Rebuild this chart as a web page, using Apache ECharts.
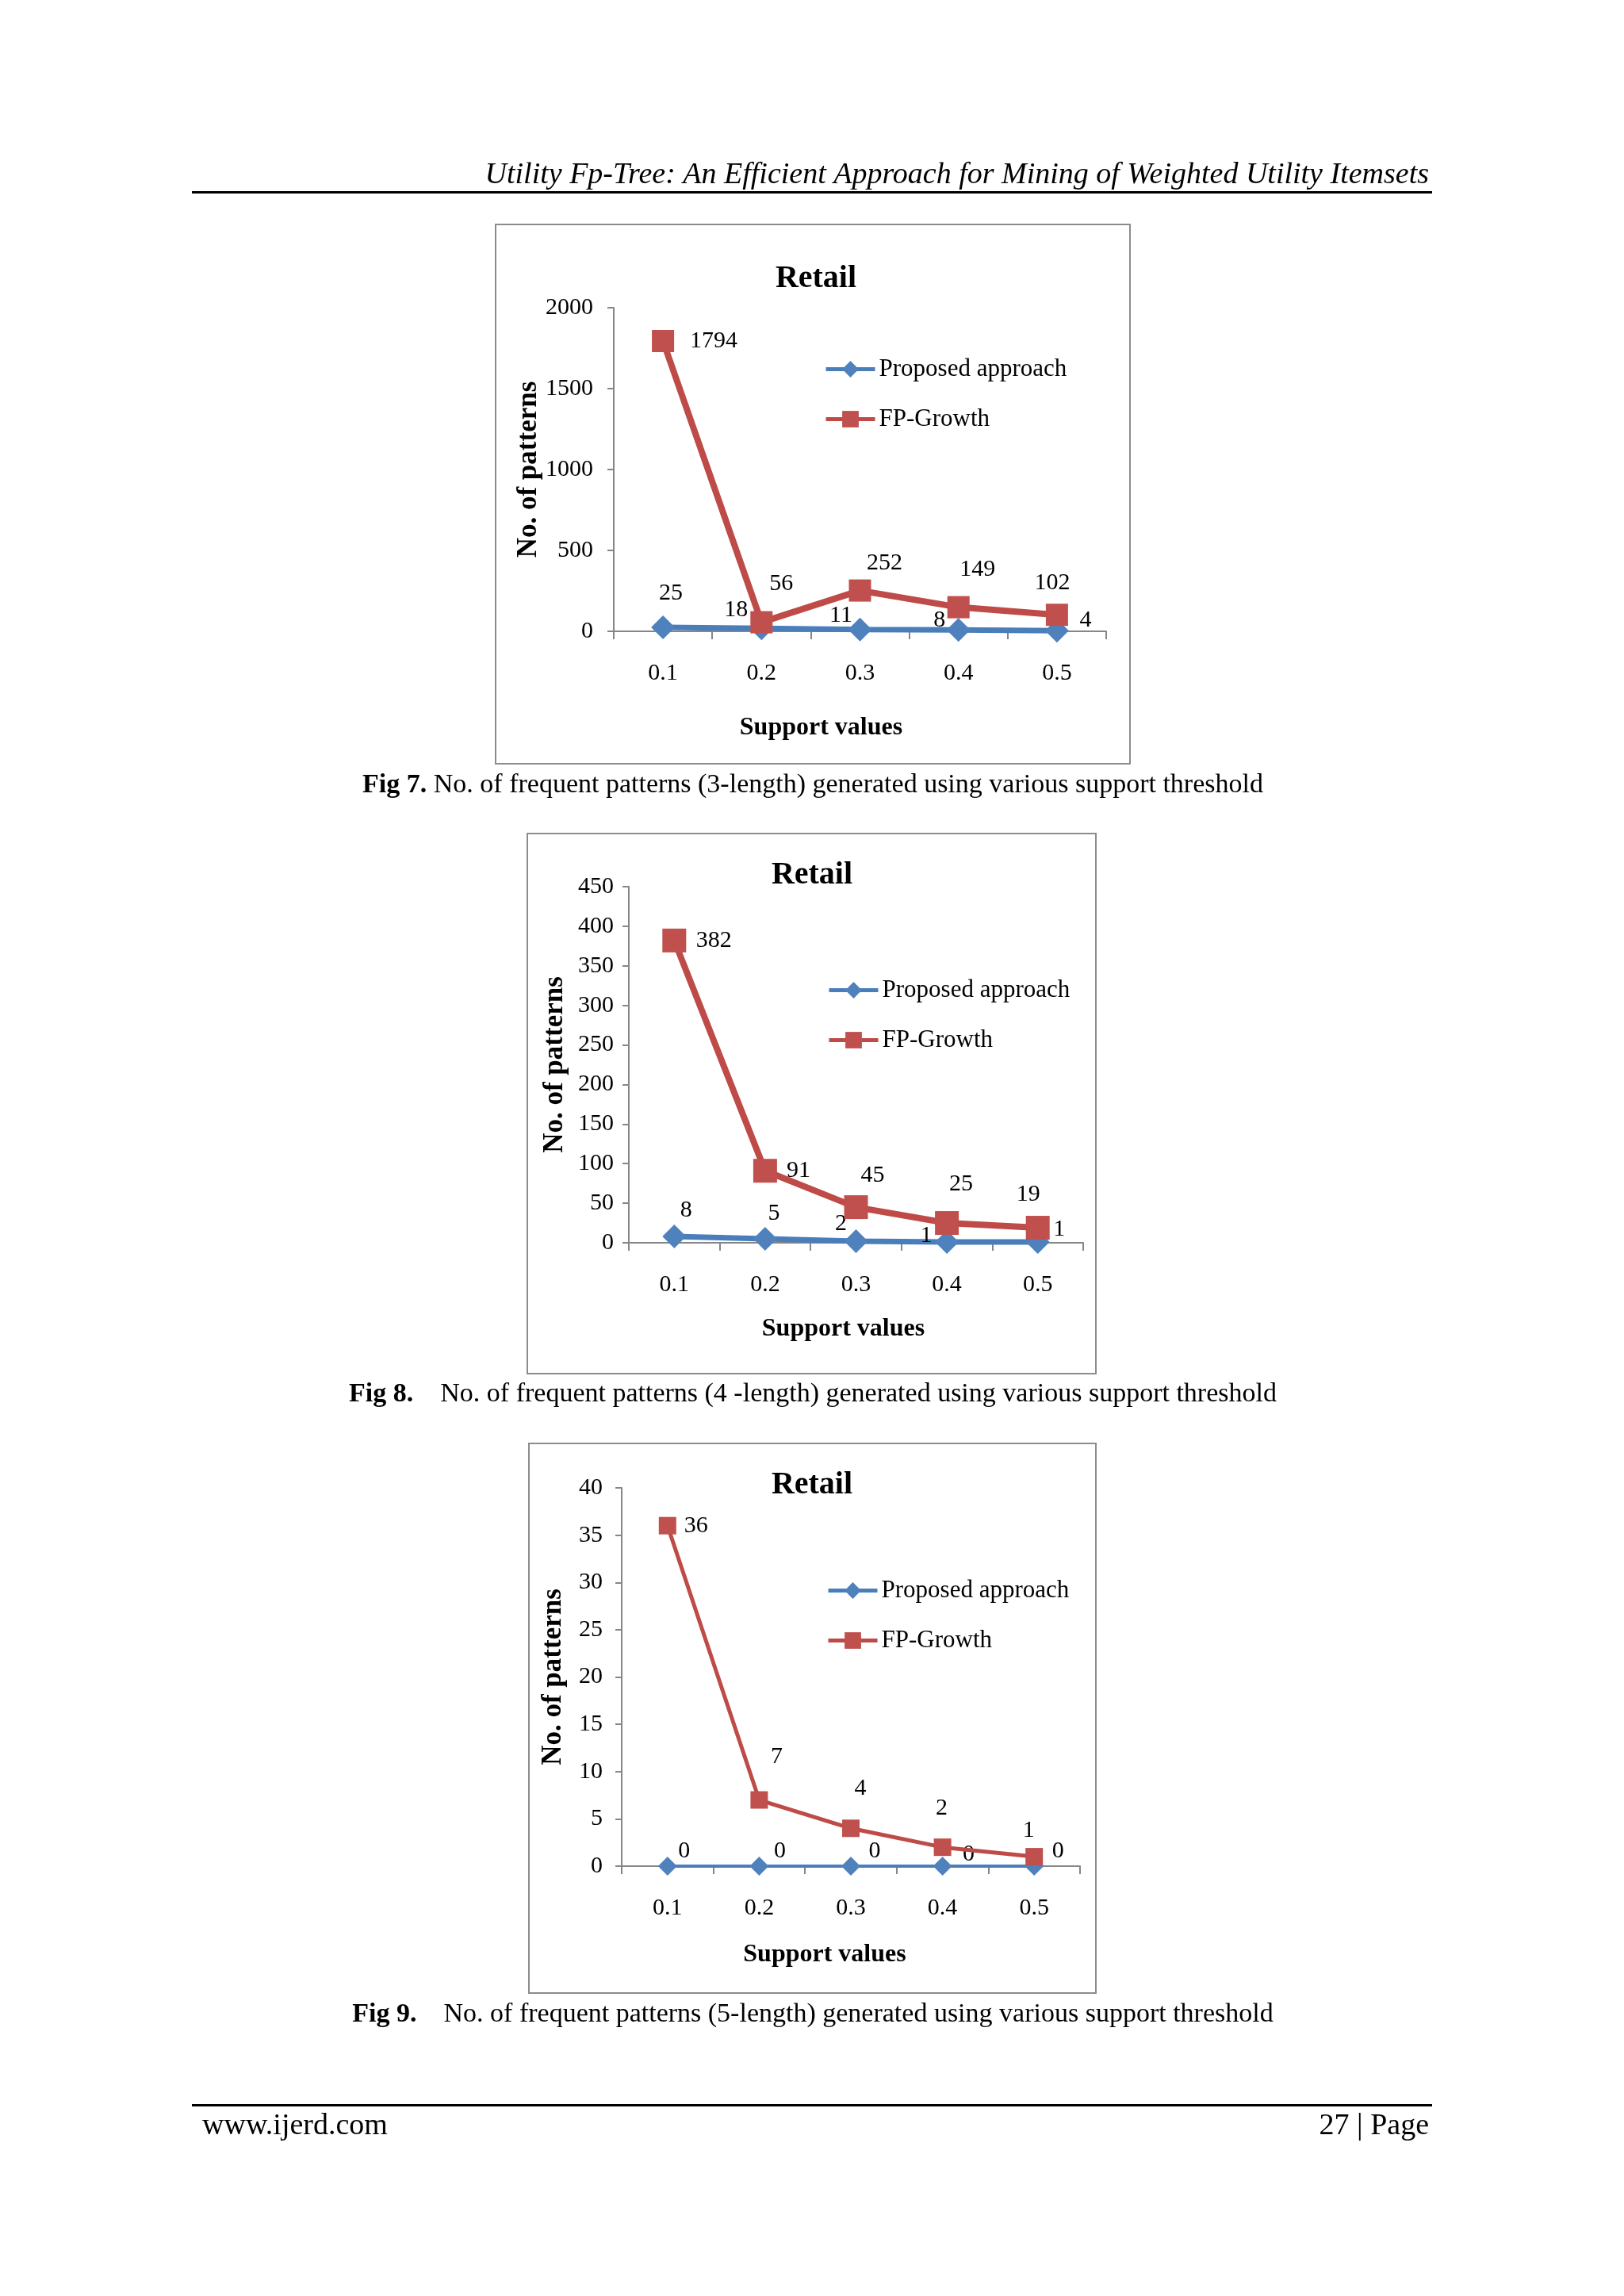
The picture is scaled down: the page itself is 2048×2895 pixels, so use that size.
<!DOCTYPE html>
<html>
<head>
<meta charset="utf-8">
<script src="https://cdn.jsdelivr.net/npm/echarts@6/dist/echarts.min.js"></script>
<style>
html,body{margin:0;padding:0;background:#fff;}
#c{width:2048px;height:2895px;}
</style>
</head>
<body>
<div id="c"></div>
<script>
// ---- data ----
var categories = ['0.1', '0.2', '0.3', '0.4', '0.5'];
var seriesNames = ['Proposed approach', 'FP-Growth'];

var fig7Proposed = [25, 18, 11, 8, 4];
var fig7FPGrowth = [1794, 56, 252, 149, 102];
var fig7YTicks = {min: 0, max: 2000, interval: 500};

var fig8Proposed = [8, 5, 2, 1, 1];
var fig8FPGrowth = [382, 91, 45, 25, 19];
var fig8YTicks = {min: 0, max: 450, interval: 50};

var fig9Proposed = [0, 0, 0, 0, 0];
var fig9FPGrowth = [36, 7, 4, 2, 1];
var fig9YTicks = {min: 0, max: 40, interval: 5};

// ---- label placement (style, kept separate from values) ----
var fig7PropOff = [[10,-43],[-32,-23],[-24,-18],[-24,-12],[36,-13]];
var fig7FPOff = [[64,0],[25,-48],[31,-34],[24,-47],[-6,-40]];
var fig8PropOff = [[15,-33],[11,-32],[-19,-22],[-26,-8],[27,-16]];
var fig8FPOff = [[50,0],[42,0],[21,-40],[18,-49],[-12,-42]];
var fig9PropOff = [[21,-19],[26,-19],[30,-19],[33,-15],[30,-19]];
var fig9FPOff = [[36,0],[22,-54],[12,-50],[-1,-49],[-7,-33]];

var SERIF = "'Liberation Serif','Times New Roman',serif";
var AXIS_COLOR = '#868686';
var BLUE_LINE = '#4A7EBB', BLUE = '#4F81BD';
var RED_LINE = '#BE4B48', RED = '#C0504D';

var panels = [
  {grid:{left:774, top:388, width:621, height:408}, y:fig7YTicks, prop:fig7Proposed, fp:fig7FPGrowth,
   propOff:fig7PropOff, fpOff:fig7FPOff, lw:8, sq:28, dm:30, yGap:85, yMargin:26, xGap:106, xShift:98,
   title:[1024,351], legend:[1034,445], box:[625,283,800,680]},
  {grid:{left:793, top:1118, width:573, height:449}, y:fig8YTicks, prop:fig8Proposed, fp:fig8FPGrowth,
   propOff:fig8PropOff, fpOff:fig8FPOff, lw:8, sq:30, dm:30, yGap:76, yMargin:19, xGap:93, xShift:32,
   title:[1019,1103], legend:[1038,1228], box:[665,1051,717,681]},
  {grid:{left:784, top:1876, width:578, height:477}, y:fig9YTicks, prop:fig9Proposed, fp:fig9FPGrowth,
   propOff:fig9PropOff, fpOff:fig9FPOff, lw:5, sq:22, dm:24, yGap:69, yMargin:24, xGap:96, xShift:66,
   title:[1019,1872], legend:[1037,1985], box:[667,1820,715,693]}
];

function items(vals, offs) {
  return vals.map(function (v, i) {
    return {value: v, label: {offset: offs[i]}};
  });
}

var grids = [], xAxes = [], yAxes = [], series = [], titles = [], legends = [], graphics = [];

panels.forEach(function (p, k) {
  grids.push(p.grid);
  xAxes.push({
    type: 'category', gridIndex: k, data: categories, boundaryGap: true,
    name: 'Support values', nameLocation: 'middle', nameGap: p.xGap,
    nameTextStyle: {fontFamily: SERIF, fontWeight: 'bold', fontSize: 32, color: '#000',
                    padding: [0, p.xShift, 0, 0]},
    axisLine: {show: true, lineStyle: {color: AXIS_COLOR, width: 2}},
    axisTick: {show: true, length: 10, lineStyle: {color: AXIS_COLOR, width: 2}},
    axisLabel: {fontFamily: SERIF, fontSize: 30, color: '#000', margin: 38},
    splitLine: {show: false}
  });
  yAxes.push({
    type: 'value', gridIndex: k, min: p.y.min, max: p.y.max, interval: p.y.interval,
    name: 'No. of patterns', nameLocation: 'middle', nameGap: p.yGap,
    nameTextStyle: {fontFamily: SERIF, fontWeight: 'bold', fontSize: 35, color: '#000'},
    axisLine: {show: true, lineStyle: {color: AXIS_COLOR, width: 2}},
    axisTick: {show: true, length: 8, lineStyle: {color: AXIS_COLOR, width: 2}},
    axisLabel: {fontFamily: SERIF, fontSize: 30, color: '#000', margin: p.yMargin,
                formatter: function (v) { return String(v); }},
    splitLine: {show: false}
  });
  var lbl = {show: true, position: 'inside', color: '#000', fontFamily: SERIF, fontSize: 30,
             textBorderWidth: 0, formatter: '{c}'};
  series.push({
    name: seriesNames[0], type: 'line', xAxisIndex: k, yAxisIndex: k,
    data: items(p.prop, p.propOff), symbol: 'diamond', symbolSize: p.dm,
    lineStyle: {color: BLUE_LINE, width: p.lw - 1}, itemStyle: {color: BLUE},
    label: lbl, z: 2
  });
  series.push({
    name: seriesNames[1], type: 'line', xAxisIndex: k, yAxisIndex: k,
    data: items(p.fp, p.fpOff), symbol: 'rect', symbolSize: p.sq,
    lineStyle: {color: RED_LINE, width: p.lw}, itemStyle: {color: RED},
    label: lbl, z: 3
  });
  titles.push({
    text: 'Retail', left: p.title[0], top: p.title[1] - 24, textAlign: 'center',
    textStyle: {fontFamily: SERIF, fontWeight: 'bold', fontSize: 40, color: '#000'}
  });
  legends.push({
    data: seriesNames, orient: 'vertical', left: p.legend[0], top: p.legend[1],
    itemWidth: 62, itemHeight: 26, itemGap: 32,
    lineStyle: {width: 5},
    textStyle: {fontFamily: SERIF, fontSize: 31, color: '#000'},
    selectedMode: false
  });
  graphics.push({
    type: 'rect', shape: {x: p.box[0], y: p.box[1], width: p.box[2], height: p.box[3]},
    style: {fill: 'none', stroke: '#8C8C8C', lineWidth: 2}, silent: true, z: -1
  });
});

// page header/footer and captions
graphics.push({type: 'text', x: 1802, y: 221, style: {
  text: 'Utility Fp-Tree: An Efficient Approach for Mining of Weighted Utility Itemsets',
  font: 'italic 38px ' + SERIF, fill: '#000', textAlign: 'right', textVerticalAlign: 'middle'}});
graphics.push({type: 'rect', shape: {x: 242, y: 241, width: 1564, height: 3}, style: {fill: '#000'}});
graphics.push({type: 'rect', shape: {x: 242, y: 2653, width: 1564, height: 3}, style: {fill: '#000'}});
graphics.push({type: 'text', x: 255, y: 2681, style: {text: 'www.ijerd.com',
  font: '38px ' + SERIF, fill: '#000', textAlign: 'left', textVerticalAlign: 'middle'}});
graphics.push({type: 'text', x: 1802, y: 2681, style: {text: '27 | Page',
  font: '38px ' + SERIF, fill: '#000', textAlign: 'right', textVerticalAlign: 'middle'}});

var captions = [
  {y: 990, b: 'Fig 7.', t: ' No. of frequent patterns (3-length) generated using various support threshold'},
  {y: 1758, b: 'Fig 8.', t: '    No. of frequent patterns (4 -length) generated using various support threshold'},
  {y: 2540, b: 'Fig 9.', t: '    No. of frequent patterns (5-length) generated using various support threshold'}
];
captions.forEach(function (c) {
  graphics.push({type: 'text', x: 1025, y: c.y, style: {
    text: '{b|' + c.b + '}{n|' + c.t + '}', textAlign: 'center', textVerticalAlign: 'middle',
    rich: {
      b: {fontFamily: SERIF, fontWeight: 'bold', fontSize: 34, fill: '#000'},
      n: {fontFamily: SERIF, fontSize: 34, fill: '#000'}
    }
  }});
});

var chart = echarts.init(document.getElementById('c'), null, {renderer: 'canvas'});
chart.setOption({
  backgroundColor: '#fff',
  animation: false,
  title: titles,
  legend: legends,
  grid: grids,
  xAxis: xAxes,
  yAxis: yAxes,
  series: series,
  graphic: graphics
});
</script>
</body>
</html>
